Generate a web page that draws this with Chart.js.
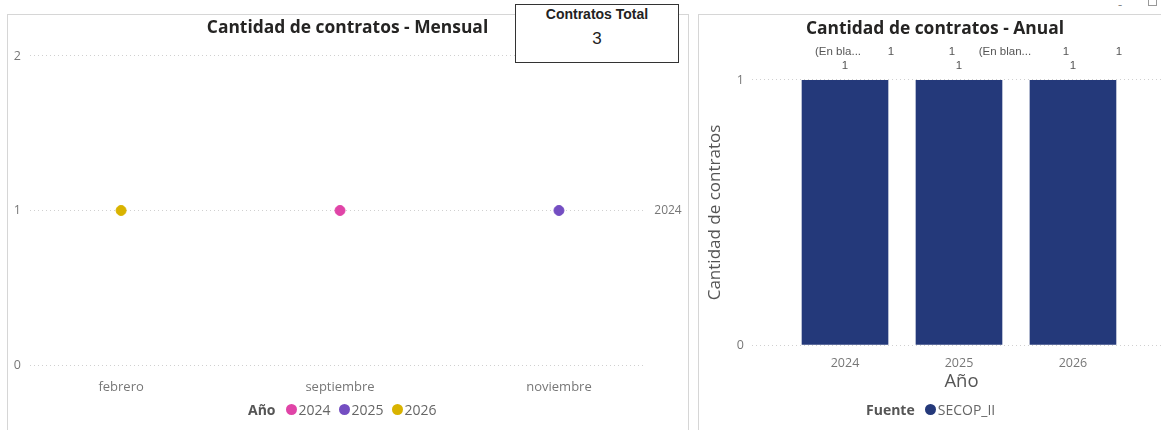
<!DOCTYPE html>
<html>
<head>
<meta charset="utf-8">
<script src="https://cdn.jsdelivr.net/npm/chart.js@4/dist/chart.umd.min.js"></script>
<style>
  body { margin:0; background:#fff; width:1161px; height:430px; overflow:hidden; position:relative;
         font-family:'Segoe UI','Open Sans',sans-serif; }
  .panel { position:absolute; border:1px solid #d6d6d6; border-bottom:none; background:#fff; }
  canvas { position:absolute; }
  .card { position:absolute; left:515px; top:4px; width:162px; height:57px; border:1px solid #333;
          background:#fff; z-index:5; text-align:center; font-family:'Liberation Sans',Arial,sans-serif; }
  .card .lbl { font-weight:bold; font-size:14px; color:#222; margin-top:1px; }
  .card .val { font-size:17px; color:#222; margin-top:7px; }
  .legend { position:absolute; display:flex; align-items:center; font-size:14px; color:#666; white-space:nowrap; }
  .legend b { color:#555; margin-right:10px; }
  .legend .dot { width:11px; height:11px; border-radius:50%; display:inline-block; margin-right:2px; }
  .legend .it { display:flex; align-items:center; margin-right:8px; }
  .chrome { position:absolute; top:-5px; left:1118px; color:#888; font-size:13px; }
  .chrome2 { position:absolute; top:-4px; left:1148px; width:7px; height:9px; border:1px solid #999; border-top:none; }
</style>
</head>
<body>
<div class="chrome">-</div>
<div class="chrome2"></div>
<div class="panel" style="left:7px;top:14px;width:680px;height:420px;"></div>
<div class="panel" style="left:698px;top:14px;width:480px;height:420px;"></div>
<canvas id="mensual" width="679" height="415" style="left:8px;top:15px;"></canvas>
<canvas id="anual" width="472" height="415" style="left:699px;top:15px;"></canvas>
<div class="card"><div class="lbl">Contratos Total</div><div class="val" id="total"></div></div>
<div class="legend" id="legMensual" style="left:248px;top:400px;"></div>
<div class="legend" id="legAnual" style="left:866px;top:400px;"></div>
<script>
// ---- data ----
const months = ['febrero', 'septiembre', 'noviembre'];
const years = ['2024', '2025', '2026'];
const mensual2024 = [null, 1, null];
const mensual2025 = [null, null, 1];
const mensual2026 = [1, null, null];
const endLabel = '2024';

const anualYears = ['2024', '2025', '2026'];
const anualContratos = [1, 1, 1];
const topRow = [['(En bla...', '1'], ['1', '(En blan...'], ['1', '1']];
const fuente = 'SECOP_II';
const totalContratos = 3;

const yearColors = ['#E044A7', '#744EC2', '#D9B300'];
const barColor = '#24397A';

Chart.defaults.font.family = "'Segoe UI','Open Sans',sans-serif";
Chart.defaults.animation = false;

document.getElementById('total').textContent = totalContratos;

// legends
const legM = document.getElementById('legMensual');
legM.innerHTML = '<b>Año</b>' + years.map((y, i) =>
  '<span class="it"><span class="dot" style="background:' + yearColors[i] + '"></span>' + y + '</span>').join('');
document.getElementById('legAnual').innerHTML = '<b>Fuente</b><span class="it"><span class="dot" style="background:' +
  barColor + '"></span>' + fuente + '</span>';

const toPoints = arr => arr.map((v, i) => v == null ? null : { x: i, y: v }).filter(Boolean);
const dotted = { color: '#d0d0d0', lineWidth: 1 };

const endLabelPlugin = {
  id: 'endLabel',
  afterDraw(chart) {
    const { ctx, chartArea } = chart;
    const y = chart.scales.y.getPixelForValue(1);
    ctx.save();
    ctx.font = "12px 'Segoe UI','Open Sans',sans-serif";
    ctx.fillStyle = '#777';
    ctx.textAlign = 'center';
    ctx.textBaseline = 'middle';
    ctx.fillText(endLabel, chartArea.right + 23, y);
    ctx.restore();
  }
};

new Chart(document.getElementById('mensual'), {
  type: 'scatter',
  data: {
    datasets: [mensual2024, mensual2025, mensual2026].map((d, i) => ({
      label: years[i],
      data: toPoints(d),
      backgroundColor: yearColors[i],
      borderColor: yearColors[i],
      pointRadius: 5,
      pointHoverRadius: 5
    }))
  },
  options: {
    responsive: false,
    layout: { padding: { left: 0, right: 0, top: 0, bottom: 35 } },
    plugins: {
      legend: { display: false },
      tooltip: { enabled: false },
      title: {
        display: true, text: 'Cantidad de contratos - Mensual', color: '#252423',
        font: { size: 17.4, weight: 'bold' }, padding: { top: 2.6, bottom: 17.5 }
      }
    },
    scales: {
      x: {
        type: 'linear', min: -0.416, max: 2.393,
        afterBuildTicks: s => { s.ticks = months.map((m, i) => ({ value: i })); },
        afterFit: s => { s.height = 30; },
        ticks: { callback: v => months[v], color: '#777', font: { size: 13 }, padding: 6 },
        grid: { display: false },
        border: { display: false }
      },
      y: {
        min: 0, max: 2,
        afterFit: s => { s.width = 22; },
        ticks: { stepSize: 1, color: '#777', font: { size: 12.5 }, padding: 9 },
        grid: { ...dotted, drawTicks: false },
        border: { display: false, dash: [1, 3] }
      },
      // empty right-hand axis only reserves room for the end label
      yEnd: {
        position: 'right', min: 0, max: 2,
        afterFit: s => { s.width = 42; },
        ticks: { display: false },
        grid: { display: false },
        border: { display: false }
      }
    }
  },
  plugins: [endLabelPlugin]
});

const topLabelsPlugin = {
  id: 'topLabels',
  afterDatasetsDraw(chart) {
    const { ctx } = chart;
    const xs = chart.scales.x, ys = chart.scales.y;
    ctx.save();
    ctx.font = "11.5px 'Liberation Sans',Arial,sans-serif";
    ctx.fillStyle = '#555';
    ctx.textAlign = 'center';
    ctx.textBaseline = 'middle';
    anualContratos.forEach((v, i) => {
      const cx = xs.getPixelForValue(i);
      const top = ys.getPixelForValue(v);
      ctx.fillText(String(v), cx, top - 14);
      ctx.fillText(topRow[i][0], cx - 7, top - 28);
      ctx.fillText(topRow[i][1], cx + 46, top - 28);
    });
    ctx.restore();
  }
};

new Chart(document.getElementById('anual'), {
  type: 'bar',
  data: {
    datasets: [{
      label: fuente,
      data: anualContratos.map((v, i) => ({ x: i, y: v })),
      backgroundColor: barColor,
      barThickness: 86
    }]
  },
  options: {
    responsive: false,
    layout: { padding: { left: 0, right: 0, top: 0, bottom: 35 } },
    plugins: {
      legend: { display: false },
      tooltip: { enabled: false },
      title: {
        display: true, text: 'Cantidad de contratos - Anual', color: '#252423',
        font: { size: 17.4, weight: 'bold' }, padding: { top: 3.6, bottom: 40.5 }
      }
    },
    scales: {
      x: {
        type: 'linear', min: -0.816, max: 2.86, offset: false,
        afterBuildTicks: s => { s.ticks = anualYears.map((y, i) => ({ value: i })); },
        afterFit: s => { s.height = 50; },
        ticks: { callback: v => anualYears[v], color: '#777', font: { size: 12.5 }, padding: 3 },
        title: { display: true, text: 'Año', color: '#555', font: { size: 18.5 }, padding: { top: 0, bottom: 2 } },
        grid: { display: false },
        border: { display: false }
      },
      y: {
        min: 0, max: 1,
        afterFit: s => { s.width = 53; },
        ticks: { stepSize: 1, color: '#777', font: { size: 12.5 }, padding: 8 },
        title: { display: true, text: 'Cantidad de contratos', color: '#555', font: { size: 17 }, padding: { top: 5.8, bottom: 0 } },
        grid: { ...dotted, drawTicks: false },
        border: { display: false, dash: [1, 3] }
      }
    }
  },
  plugins: [topLabelsPlugin]
});
</script>
</body>
</html>
